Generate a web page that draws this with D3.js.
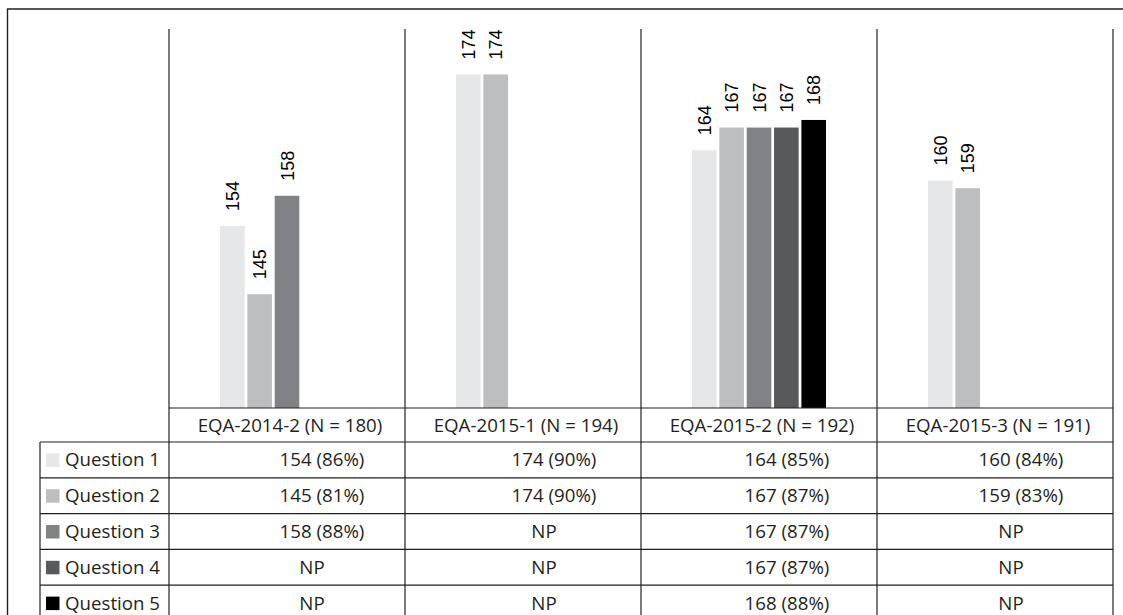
<!DOCTYPE html>
<html>
<head>
<meta charset="utf-8">
<script src="https://cdn.jsdelivr.net/npm/d3@7"></script>
<style>
  body { margin: 0; background: #fff; }
  svg { display: block; }
</style>
</head>
<body>
<div class="canvas"></div>
<script>
// data
const categories = ['EQA-2014-2', 'EQA-2015-1', 'EQA-2015-2', 'EQA-2015-3'];
const sampleSizes = [180, 194, 192, 191];
const questions = ['Question 1', 'Question 2', 'Question 3', 'Question 4', 'Question 5'];

// correct answers per question (null = NP, not present)
const q1 = [154, 174, 164, 160];
const q2 = [145, 174, 167, 159];
const q3 = [158, null, 167, null];
const q4 = [null, null, 167, null];
const q5 = [null, null, 168, null];

const q1Pct = [86, 90, 85, 84];
const q2Pct = [81, 90, 87, 83];
const q3Pct = [88, null, 87, null];
const q4Pct = [null, null, 87, null];
const q5Pct = [null, null, 88, null];

const colors = ['#e6e7e8', '#bcbec0', '#808285', '#58595b', '#000000'];

const seriesValues = [q1, q2, q3, q4, q5];
const seriesPct = [q1Pct, q2Pct, q3Pct, q4Pct, q5Pct];

// layout
const width = 1123;
const height = 615;
const plotTop = 29;
const plotBottom = 408;
const headerH = 34;
const rowH = 35.8;
const colLeft = 169;
const colRight = 1113;
const legendLeft = 40;
const lineColor = '#231f20';
const tableFont = '"Open Sans", sans-serif';
const tableSize = 18.7;

const svg = d3.select('.canvas')
  .append('svg')
  .attr('width', width)
  .attr('height', height);

// scales
const x0 = d3.scaleBand()
  .domain(categories)
  .range([colLeft, colRight]);

const x1 = d3.scaleBand()
  .domain(questions)
  .range([51, x0.bandwidth() - 51])
  .paddingInner(0.1);

const y = d3.scaleLinear()
  .domain([130, 180])
  .range([plotBottom, plotTop]);

// bars
const groups = svg.append('g')
  .selectAll('g')
  .data(categories)
  .join('g')
  .attr('transform', d => `translate(${x0(d)},0)`);

const barData = (c, i) => questions
  .map((q, k) => ({ q, k, v: seriesValues[k][i] }))
  .filter(d => d.v !== null);

groups.selectAll('rect')
  .data(barData)
  .join('rect')
  .attr('x', d => x1(d.q))
  .attr('width', x1.bandwidth())
  .attr('y', d => y(d.v))
  .attr('height', d => y.range()[0] - y(d.v))
  .attr('fill', d => colors[d.k]);

// rotated value labels
groups.selectAll('text')
  .data(barData)
  .join('text')
  .attr('transform', d => `translate(${x1(d.q) + x1.bandwidth() / 2 + 6.5},${y(d.v) - 15}) rotate(-90)`)
  .attr('font-family', '"Liberation Sans", Arial, sans-serif')
  .attr('font-size', 18)
  .attr('fill', '#000')
  .text(d => d.v);

// table
const tableTop = plotBottom + headerH;
const rowY = i => tableTop + i * rowH;
const grid = svg.append('g')
  .attr('stroke', lineColor)
  .attr('stroke-width', 1.2)
  .attr('fill', 'none');

// outer frame
grid.append('path')
  .attr('stroke-width', 1.4)
  .attr('d', `M7.5,${height + 10}V9H${width + 10}`);

// column dividers
const colEdges = categories.map(c => x0(c)).concat([colRight]);
grid.selectAll('.vline')
  .data(colEdges)
  .join('line')
  .attr('class', 'vline')
  .attr('x1', d => d).attr('x2', d => d)
  .attr('y1', plotTop).attr('y2', height + 10);

grid.append('line')
  .attr('x1', legendLeft).attr('x2', legendLeft)
  .attr('y1', tableTop).attr('y2', height + 10);

grid.append('line')
  .attr('x1', colLeft).attr('x2', colRight)
  .attr('y1', plotBottom).attr('y2', plotBottom);

grid.selectAll('.hline')
  .data(d3.range(questions.length + 1))
  .join('line')
  .attr('class', 'hline')
  .attr('x1', legendLeft).attr('x2', colRight)
  .attr('y1', d => rowY(d)).attr('y2', d => rowY(d));

// header labels
svg.append('g')
  .selectAll('text')
  .data(categories)
  .join('text')
  .attr('x', d => x0(d) + x0.bandwidth() / 2 + 3)
  .attr('y', plotBottom + headerH / 2 + 7)
  .attr('text-anchor', 'middle')
  .attr('font-family', tableFont)
  .attr('font-size', tableSize)
  .attr('fill', '#231f20')
  .text((d, i) => `${d} (N = ${sampleSizes[i]})`);

// legend column
const legend = svg.append('g')
  .selectAll('g')
  .data(questions)
  .join('g')
  .attr('transform', (d, i) => `translate(${legendLeft},${rowY(i)})`);

legend.append('rect')
  .attr('x', 6)
  .attr('y', rowH / 2 - 6.5)
  .attr('width', 13.5)
  .attr('height', 13.5)
  .attr('fill', (d, i) => colors[i]);

legend.append('text')
  .attr('x', 25)
  .attr('y', rowH / 2 + 6.5)
  .attr('font-family', tableFont)
  .attr('font-size', tableSize)
  .attr('fill', '#231f20')
  .text(d => d);

// cell values (text in the source sits right of centre)
const cellShift = [35, 31, 28, 26];
questions.forEach((q, k) => {
  svg.append('g')
    .selectAll('text')
    .data(categories)
    .join('text')
    .attr('x', (c, i) => x0(c) + x0.bandwidth() / 2 + cellShift[i] - (seriesValues[k][i] === null ? 10 : 0))
    .attr('y', rowY(k) + rowH / 2 + 6.5)
    .attr('text-anchor', 'middle')
    .attr('font-family', tableFont)
    .attr('font-size', tableSize)
    .attr('fill', '#231f20')
    .text((c, i) => seriesValues[k][i] === null ? 'NP' : `${seriesValues[k][i]} (${seriesPct[k][i]}%)`);
});
</script>
</body>
</html>
